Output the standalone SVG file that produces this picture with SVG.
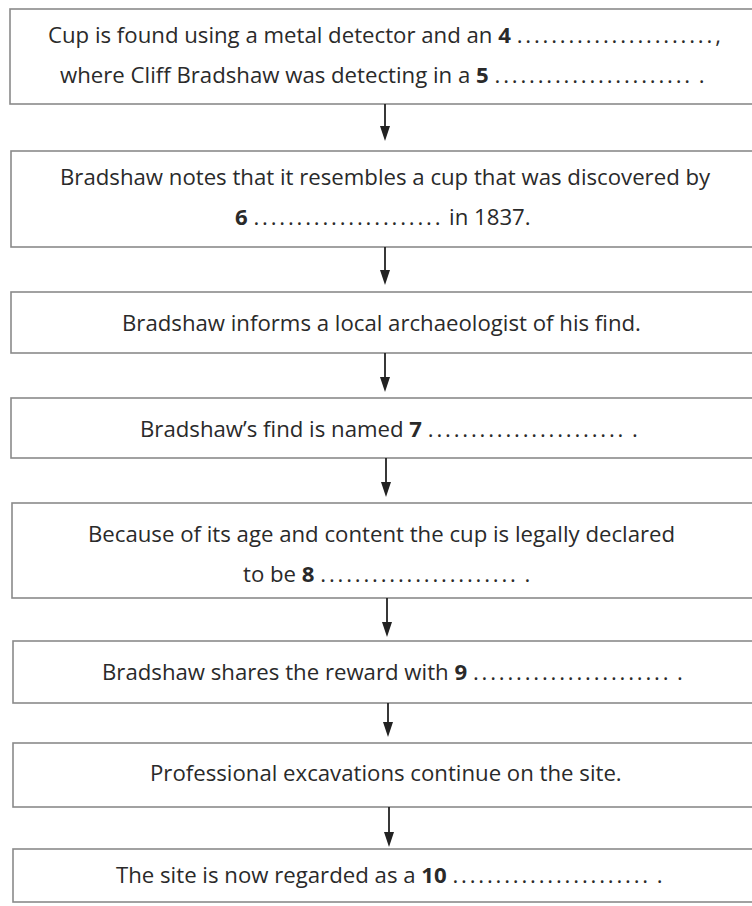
<svg xmlns="http://www.w3.org/2000/svg" width="752" height="906" viewBox="0 0 752 906">
<defs>
<style>
.box{fill:#fff;stroke:#8a8a8a;stroke-width:1.6}
.t{font-family:"Open Sans","Liberation Sans",sans-serif;font-size:22.2px;fill:#2a2a2a}
.b{font-weight:bold}
.d{letter-spacing:2.8px}
.c{stroke:#222;stroke-width:1.8;fill:none}
.h{fill:#222}
</style>
</defs>
<rect width="752" height="906" fill="#fff"/>
<g id="n1"><rect class="box" x="10" y="9" width="760" height="95"/>
<text class="t" x="48" y="43">Cup is found using a metal detector and an <tspan class="b">4</tspan> <tspan class="d">.......................</tspan>,</text>
<text class="t" x="60" y="83">where Cliff Bradshaw was detecting in a <tspan class="b">5</tspan> <tspan class="d">.......................</tspan> .</text></g>
<g id="n2"><rect class="box" x="11" y="151" width="760" height="96"/>
<text class="t" x="60" y="185">Bradshaw notes that it resembles a cup that was discovered by</text>
<text class="t" x="235" y="225"><tspan class="b">6</tspan> <tspan class="d">......................</tspan> in 1837.</text></g>
<g id="n3"><rect class="box" x="11" y="292" width="760" height="61"/>
<text class="t" x="122" y="331">Bradshaw informs a local archaeologist of his find.</text></g>
<g id="n4"><rect class="box" x="11" y="398" width="760" height="60"/>
<text class="t" x="140" y="437">Bradshaw’s find is named <tspan class="b">7</tspan> <tspan class="d">.......................</tspan> .</text></g>
<g id="n5"><rect class="box" x="12" y="503" width="760" height="95"/>
<text class="t" x="88" y="542">Because of its age and content the cup is legally declared</text>
<text class="t" x="243" y="582">to be <tspan class="b">8</tspan> <tspan class="d">.......................</tspan> .</text></g>
<g id="n6"><rect class="box" x="13" y="641" width="760" height="62"/>
<text class="t" x="102" y="680">Bradshaw shares the reward with <tspan class="b">9</tspan> <tspan class="d">.......................</tspan> .</text></g>
<g id="n7"><rect class="box" x="13" y="743" width="760" height="64"/>
<text class="t" x="150" y="781">Professional excavations continue on the site.</text></g>
<g id="n8"><rect class="box" x="13" y="849" width="760" height="53"/>
<text class="t" x="116" y="883">The site is now regarded as a <tspan class="b">10</tspan> <tspan class="d">.......................</tspan> .</text></g>
<g id="connectors">
<line class="c" x1="385" y1="104" x2="385" y2="130"/><path class="h" d="M380,126 L390,126 L385,141 Z"/>
<line class="c" x1="385" y1="247" x2="385" y2="274"/><path class="h" d="M380,270 L390,270 L385,285 Z"/>
<line class="c" x1="385" y1="353" x2="385" y2="381"/><path class="h" d="M380,377 L390,377 L385,392 Z"/>
<line class="c" x1="386" y1="458" x2="386" y2="486"/><path class="h" d="M381,482 L391,482 L386,497 Z"/>
<line class="c" x1="387" y1="598" x2="387" y2="626"/><path class="h" d="M382,622 L392,622 L387,637 Z"/>
<line class="c" x1="388" y1="703" x2="388" y2="726"/><path class="h" d="M383,722 L393,722 L388,737 Z"/>
<line class="c" x1="389" y1="807" x2="389" y2="836"/><path class="h" d="M384,832 L394,832 L389,847 Z"/>
</g>
</svg>
